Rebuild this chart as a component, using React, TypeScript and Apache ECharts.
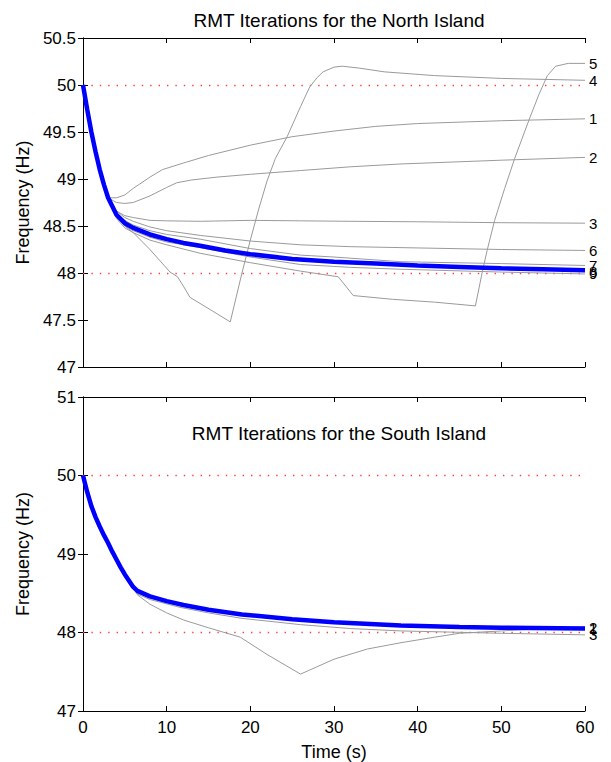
import React, { useEffect, useRef } from "react";
import * as echarts from "echarts";

const northTitle = "RMT Iterations for the North Island";
const southTitle = "RMT Iterations for the South Island";
const xLabel = "Time (s)";
const yLabel = "Frequency (Hz)";
const thresholds = [50, 48];

type P = [number, number];

// shared initial frequency drop (North)
const northStart: P[] = [[0, 50], [0.5, 49.74], [1, 49.5], [1.5, 49.29], [2, 49.1], [2.5, 48.94]];

const northFinal: P[] = [[3, 48.8], [4, 48.62], [5, 48.53], [6, 48.48], [8, 48.41], [10, 48.36], [12, 48.32], [14, 48.29], [17, 48.24], [20, 48.2], [25, 48.15], [30, 48.12], [35, 48.1], [40, 48.08], [45, 48.065], [50, 48.05], [55, 48.04], [60, 48.03]];
const north1: P[] = [[3, 48.8], [4, 48.8], [5, 48.83], [6, 48.9], [8, 49.02], [9.5, 49.1], [12, 49.17], [15, 49.25], [20, 49.36], [25, 49.45], [30, 49.51], [35, 49.56], [40, 49.59], [50, 49.62], [60, 49.64]];
const north2: P[] = [[3, 48.8], [4, 48.75], [5, 48.74], [6, 48.75], [8, 48.82], [10, 48.91], [11.2, 48.96], [13, 48.99], [16, 49.02], [20, 49.05], [26, 49.09], [32, 49.13], [38, 49.16], [44, 49.18], [50, 49.2], [60, 49.23]];
const north3: P[] = [[3, 48.8], [4, 48.66], [5, 48.61], [6, 48.59], [8, 48.56], [10, 48.555], [14, 48.55], [20, 48.56], [26, 48.555], [32, 48.55], [40, 48.545], [50, 48.535], [60, 48.53]];
const north4: P[] = [[3, 48.8], [4, 48.6], [5, 48.5], [6, 48.43], [8, 48.25], [10.4, 48.01], [11.3, 47.96], [12, 47.86], [12.8, 47.74], [15.4, 47.6], [17.6, 47.48], [19, 48.0], [20, 48.35], [21, 48.68], [22, 48.98], [23, 49.22], [24.4, 49.45], [26, 49.77], [27.1, 49.98], [28, 50.08], [28.7, 50.14], [30, 50.19], [31, 50.2], [33, 50.18], [36, 50.14], [42, 50.1], [50, 50.07], [60, 50.05]];
const north5: P[] = [[3, 48.8], [4, 48.58], [5, 48.48], [6, 48.43], [8, 48.35], [10, 48.3], [14, 48.21], [20, 48.11], [26, 48.02], [30.5, 47.96], [31.5, 47.85], [32.3, 47.76], [37, 47.72], [42, 47.69], [46.9, 47.65], [47.7, 48.0], [48.3, 48.24], [49.2, 48.56], [50.4, 48.9], [51.6, 49.22], [53.4, 49.65], [54.5, 49.9], [55.5, 50.1], [56.5, 50.2], [58, 50.23], [60, 50.23]];
const north6: P[] = [[3, 48.8], [4, 48.66], [5, 48.59], [6, 48.55], [8, 48.49], [10, 48.45], [14, 48.4], [20, 48.34], [26, 48.3], [32, 48.28], [38, 48.27], [50, 48.25], [60, 48.24]];
const north7: P[] = [[3, 48.8], [4, 48.64], [5, 48.56], [6, 48.51], [8, 48.45], [10, 48.41], [14, 48.36], [20, 48.26], [26, 48.19], [30, 48.17], [38, 48.12], [50, 48.1], [60, 48.08]];
const north8: P[] = [[3, 48.8], [4, 48.61], [5, 48.52], [6, 48.47], [8, 48.4], [10, 48.35], [14, 48.28], [20, 48.19], [25, 48.14], [30, 48.11], [40, 48.07], [50, 48.04], [60, 48.02]];
const north9: P[] = [[3, 48.8], [4, 48.6], [5, 48.5], [6, 48.45], [8, 48.38], [10, 48.33], [14, 48.27], [20, 48.17], [26, 48.09], [32, 48.06], [38, 48.04], [50, 48.01], [60, 47.99]];

// shared initial frequency drop (South)
const southStart: P[] = [[0, 50], [0.5, 49.79], [1, 49.61], [1.5, 49.47], [2, 49.35], [2.5, 49.24], [3, 49.14], [3.5, 49.03], [4, 48.93], [4.5, 48.83], [5, 48.74], [5.5, 48.66], [6, 48.58]];

const southFinal: P[] = [[6.5, 48.53], [8, 48.46], [10, 48.4], [12, 48.35], [15, 48.29], [19, 48.23], [25, 48.17], [30, 48.13], [38, 48.09], [45, 48.07], [50, 48.06], [60, 48.05]];
const south1: P[] = [[6.5, 48.52], [8, 48.45], [10, 48.39], [12, 48.34], [15, 48.28], [19, 48.22], [25, 48.16], [30, 48.12], [38, 48.08], [45, 48.065], [50, 48.055], [60, 48.05]];
const south2: P[] = [[6.5, 48.48], [8, 48.36], [10, 48.25], [12, 48.16], [15, 48.06], [18.8, 47.94], [22, 47.72], [26, 47.47], [30, 47.66], [34, 47.79], [38, 47.87], [42, 47.94], [45, 47.99], [50, 48.02], [55, 48.05], [60, 48.07]];
const south3: P[] = [[6.5, 48.49], [8, 48.42], [11.6, 48.32], [15, 48.25], [19, 48.18], [26, 48.1], [32, 48.05], [38, 48.02], [50, 47.99], [60, 47.97]];

const FONT = "'Liberation Sans', Arial, Helvetica, sans-serif";

export default function App() {
  const ref = useRef<HTMLDivElement>(null);
  useEffect(() => {
    const chart = echarts.init(ref.current!, null, { renderer: "svg" });

    const grids = [
      { left: 83, top: 38, width: 502, height: 329 },
      { left: 83, top: 397, width: 502, height: 315 },
    ];
    const yRanges = [
      { min: 47, max: 50.5, interval: 0.5 },
      { min: 47, max: 51, interval: 1 },
    ];
    const axisLine = { show: true, lineStyle: { color: "#000", width: 1 } };
    const tick = { show: true, inside: true, length: 5, lineStyle: { color: "#000" } };
    const xAxes: any[] = [];
    const yAxes: any[] = [];
    [0, 1].forEach((g) => {
      xAxes.push({
        type: "value", gridIndex: g, position: "bottom", min: 0, max: 60, interval: 10,
        axisLine, axisTick: tick, splitLine: { show: false },
        axisLabel: { show: g === 1, color: "#000", fontSize: 17, fontFamily: FONT, margin: 8 },
        name: g === 1 ? xLabel : "", nameLocation: "middle", nameGap: 32,
        nameTextStyle: { color: "#000", fontSize: 18, fontFamily: FONT },
      });
      xAxes.push({
        type: "value", gridIndex: g, position: "top", min: 0, max: 60, interval: 10,
        axisLine, axisTick: tick, splitLine: { show: false }, axisLabel: { show: false },
      });
      yAxes.push({
        type: "value", gridIndex: g, position: "left", ...yRanges[g],
        axisLine, axisTick: tick, splitLine: { show: false },
        axisLabel: { color: "#000", fontSize: 17, fontFamily: FONT, margin: 7 },
        name: yLabel, nameLocation: "middle", nameGap: 51,
        nameTextStyle: { color: "#000", fontSize: 18, fontFamily: FONT },
      });
      yAxes.push({
        type: "value", gridIndex: g, position: "right", ...yRanges[g],
        axisLine, axisTick: tick, splitLine: { show: false }, axisLabel: { show: false },
      });
    });

    const gray = "#9a9a9a";
    const red = "#ff4040";
    const iterSeries = (name: string, start: P[], data: P[], g: number) => ({
      type: "line", name, data: start.concat(data), xAxisIndex: g * 2, yAxisIndex: g * 2,
      showSymbol: false, symbol: "none", lineStyle: { color: gray, width: 1 }, z: 2,
      endLabel: { show: true, formatter: name, color: "#000", fontSize: 15, fontFamily: FONT, distance: 4 },
      emphasis: { disabled: true },
    });
    const finalSeries = (start: P[], data: P[], g: number) => ({
      type: "line", name: "final" + g, data: start.concat(data), xAxisIndex: g * 2, yAxisIndex: g * 2,
      showSymbol: false, symbol: "none", lineStyle: { color: "#0000ff", width: 4.5 }, z: 3,
      emphasis: { disabled: true },
      markLine: {
        silent: true, symbol: "none", label: { show: false }, z: 1,
        lineStyle: { color: red, width: 1.4, type: [1.4, 7], opacity: 1 },
        data: thresholds.map((v) => ({ yAxis: v, lineStyle: { color: red } })),
      },
    });

    const northIters: [string, P[]][] = [["1", north1], ["2", north2], ["3", north3], ["4", north4], ["5", north5], ["6", north6], ["7", north7], ["8", north8], ["9", north9]];
    const southIters: [string, P[]][] = [["1", south1], ["2", south2], ["3", south3]];

    const series: any[] = [
      ...northIters.map(([n, d]) => iterSeries(n, northStart, d, 0)),
      finalSeries(northStart, northFinal, 0),
      ...southIters.map(([n, d]) => iterSeries(n, southStart, d, 1)),
      finalSeries(southStart, southFinal, 1),
    ];

    const titleStyle = { fontSize: 19, fontWeight: "normal", color: "#000", fontFamily: FONT };
    chart.setOption({
      animation: false,
      backgroundColor: "#fff",
      title: [
        { text: northTitle, left: 334, top: 6, textAlign: "center", textStyle: titleStyle },
        { text: southTitle, left: 334, top: 419, textAlign: "center", textStyle: titleStyle },
      ],
      grid: grids,
      xAxis: xAxes,
      yAxis: yAxes,
      series,
    });
    return () => chart.dispose();
  }, []);
  return <div ref={ref} style={{ position: "absolute", left: 0, top: 0, width: 611, height: 762 }} />;
}
